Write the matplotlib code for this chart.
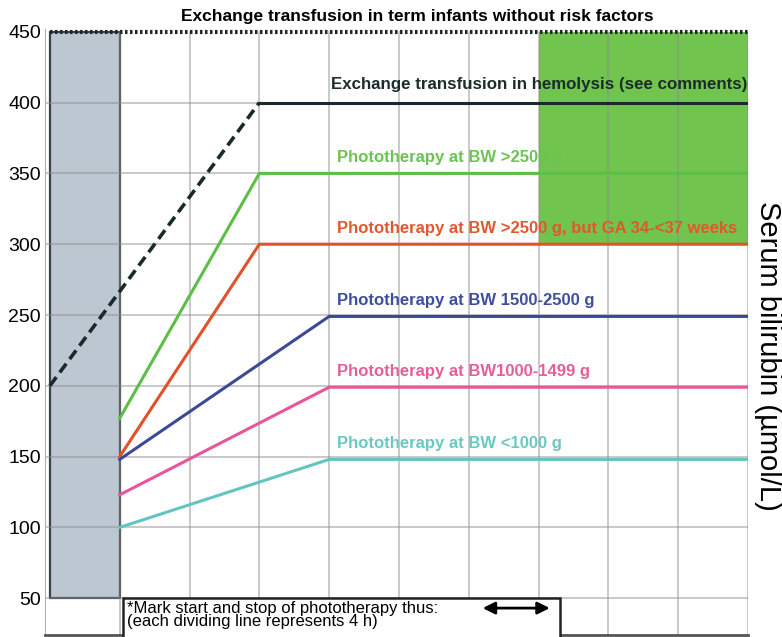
import matplotlib
matplotlib.use("Agg")
import matplotlib.pyplot as plt
from matplotlib.patches import Rectangle

# time axis: one column = 4 h dividing lines, column 0 is the grey block
exchange_x = [0, 3, 10]
exchange_y = [200, 400, 400]
fast_x = [1, 3, 10]
slow_x = [1, 4, 10]
bw_over_2500 = [177, 350, 350]
bw_over_2500_ga = [150, 300, 300]
bw_1500_2500 = [148, 249, 249]
bw_1000_1499 = [123, 199, 199]
bw_under_1000 = [100, 148, 148]
y_ticks = [50, 100, 150, 200, 250, 300, 350, 400, 450]

series = [
    (fast_x, bw_over_2500, "#5cbf45", "#6cc352", "Phototherapy at BW >2500 g"),
    (fast_x, bw_over_2500_ga, "#e2512c", "#e0582f", "Phototherapy at BW >2500 g, but GA 34-<37 weeks"),
    (slow_x, bw_1500_2500, "#3b4a96", "#3d4f9c", "Phototherapy at BW 1500-2500 g"),
    (slow_x, bw_1000_1499, "#e8559b", "#e45e9a", "Phototherapy at BW1000-1499 g"),
    (slow_x, bw_under_1000, "#63c4c0", "#6cc7c3", "Phototherapy at BW <1000 g"),
]

plt.rcParams["font.family"] = ["Liberation Sans", "DejaVu Sans"]

fig = plt.figure(figsize=(7.82, 6.37), dpi=100)
ax = fig.add_axes([45 / 782, 2 / 637, 703 / 782, 606 / 637])
ax.set_xlim(-0.07, 10)
ax.set_ylim(24, 452)

# shaded regions
ax.add_patch(Rectangle((0, 50), 1, 400, facecolor="#bdc7d1", edgecolor="#3a4247", lw=1.6, zorder=0.5))
ax.add_patch(Rectangle((7, 300), 3, 150, facecolor="#71c44e", edgecolor="none", zorder=0.4))

# grid
for yv in y_ticks[:-1]:
    ax.plot([-0.07, 10], [yv, yv], color="#8c8c8c", lw=1.3, alpha=0.5, zorder=1)
for xv in range(1, 11):
    ax.plot([xv, xv], [24, 450], color="#8c8c8c", lw=1.3, alpha=0.5, zorder=1)

# top dotted limit
ax.plot([0, 10], [450, 450], color="#1e2a2e", lw=3, ls=(0, (0.6, 0.6)), zorder=3)

# exchange transfusion line
ax.plot(exchange_x[:2], exchange_y[:2], color="#1a2a2a", lw=2.6, ls=(0, (3, 1.6)), zorder=3)
ax.plot(exchange_x[1:], exchange_y[1:], color="#1a2a2a", lw=2.2, zorder=3)
ax.text(4.03, 413, "Exchange transfusion in hemolysis (see comments)", color="#1c2b2b",
        fontsize=12.2, fontweight="bold", va="center", ha="left", zorder=4)

for xs, ys, col, tcol, label in series:
    ax.plot(xs, ys, color=col, lw=2.2, zorder=3)
    ax.text(4.11, ys[-1] + 11, label, color=tcol, fontsize=12, fontweight="bold",
            va="center", ha="left", zorder=4)

ax.set_yticks(y_ticks)
ax.set_yticklabels([str(v) for v in y_ticks], fontsize=14)
ax.tick_params(axis="y", length=0, pad=3)
ax.set_xticks([])
for s in ["top", "right"]:
    ax.spines[s].set_visible(False)
ax.spines["left"].set_color("#b0b0b0")
ax.spines["bottom"].set_color("#555555")
ax.spines["bottom"].set_linewidth(2)

# note box at the bottom
ax.add_patch(Rectangle((1.05, 21), 6.26, 29, facecolor="white", edgecolor="#222222",
                       lw=1.8, zorder=5, clip_on=False))
ax.text(1.1, 38, "*Mark start and stop of phototherapy thus:\n(each dividing line represents 4 h)",
        fontsize=12, va="center", ha="left", linespacing=0.85, zorder=6)
ax.annotate("", xy=(7.2, 43), xytext=(6.16, 43),
            arrowprops=dict(arrowstyle="<|-|>", color="black", lw=2, mutation_scale=18), zorder=6)

fig.text(417 / 782, 1 - 16 / 637, "Exchange transfusion in term infants without risk factors",
         fontsize=12.5, fontweight="bold", ha="center", va="center")
fig.text(768 / 782, 1 - 356 / 637, "Serum bilirubin (\u00b5mol/L)", fontsize=21,
         rotation=-90, ha="center", va="center")

fig.savefig("out.png", dpi=100)
